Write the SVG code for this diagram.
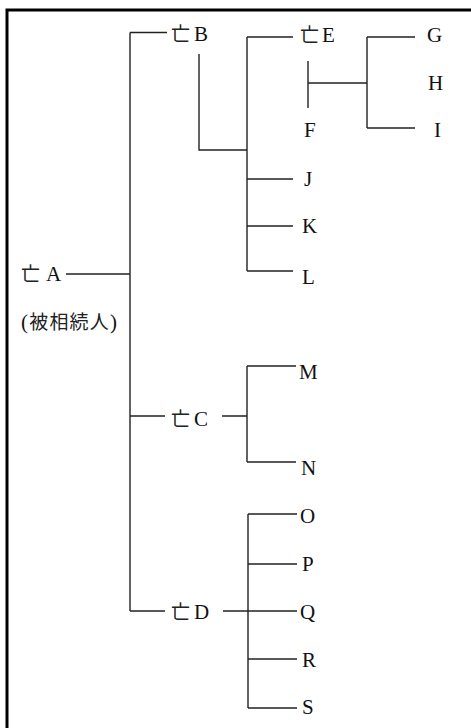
<svg xmlns="http://www.w3.org/2000/svg" width="471" height="728" viewBox="0 0 471 728">
<style>
.ln{stroke:#222;stroke-width:1.4;fill:none}
.t{font-family:"Liberation Serif","Noto Sans CJK JP",serif;font-size:21px;fill:#111}
.k{font-family:"Noto Sans CJK JP","Liberation Serif",sans-serif;font-size:19px;fill:#222}
</style>
<rect width="471" height="728" fill="#fff"/>
<path d="M7 728V10H471" stroke="#000" stroke-width="3" fill="none"/>
<g id="connectors">
<path class="ln" d="M130 32.5V611M130 32.5H167M66 274H130M130 416H165M130 611H165"/>
<path class="ln" d="M199 54V150H247M247 37V271M247 37H293M247 179H293M247 226H293M247 271H293"/>
<path class="ln" d="M308 61V108M308 83H367M367 37V128M367 37H415M367 128H415"/>
<path class="ln" d="M222 416H247M247 366V462M247 366H296M247 462H296"/>
<path class="ln" d="M223 611H297M248 514V708M248 514H297M248 564H297M248 659H297M248 708H297"/>
</g>
<g id="nA"><text class="t" y="281"><tspan class="k" x="21">亡</tspan><tspan x="46">A</tspan></text>
<text class="t" x="21" y="329" letter-spacing="1.2">(<tspan class="k" font-size="20">被相続人</tspan>)</text></g>
<g id="nB"><text class="t" y="41"><tspan class="k" x="171">亡</tspan><tspan x="194">B</tspan></text></g>
<g id="nC"><text class="t" y="426"><tspan class="k" x="171">亡</tspan><tspan x="194">C</tspan></text></g>
<g id="nD"><text class="t" y="619"><tspan class="k" x="171">亡</tspan><tspan x="194">D</tspan></text></g>
<g id="nE"><text class="t" y="42"><tspan class="k" x="300">亡</tspan><tspan x="322">E</tspan></text></g>
<g id="nF"><text class="t" x="304" y="137">F</text></g>
<g id="nG"><text class="t" x="427" y="42">G</text></g>
<g id="nH"><text class="t" x="428" y="90">H</text></g>
<g id="nI"><text class="t" x="434" y="137">I</text></g>
<g id="nJ"><text class="t" x="304" y="186">J</text></g>
<g id="nK"><text class="t" x="302" y="233">K</text></g>
<g id="nL"><text class="t" x="302" y="284">L</text></g>
<g id="nM"><text class="t" x="299" y="379">M</text></g>
<g id="nN"><text class="t" x="301" y="475">N</text></g>
<g id="nO"><text class="t" x="300" y="523">O</text></g>
<g id="nP"><text class="t" x="302" y="571">P</text></g>
<g id="nQ"><text class="t" x="300" y="619">Q</text></g>
<g id="nR"><text class="t" x="302" y="667">R</text></g>
<g id="nS"><text class="t" x="302" y="714">S</text></g>
</svg>
